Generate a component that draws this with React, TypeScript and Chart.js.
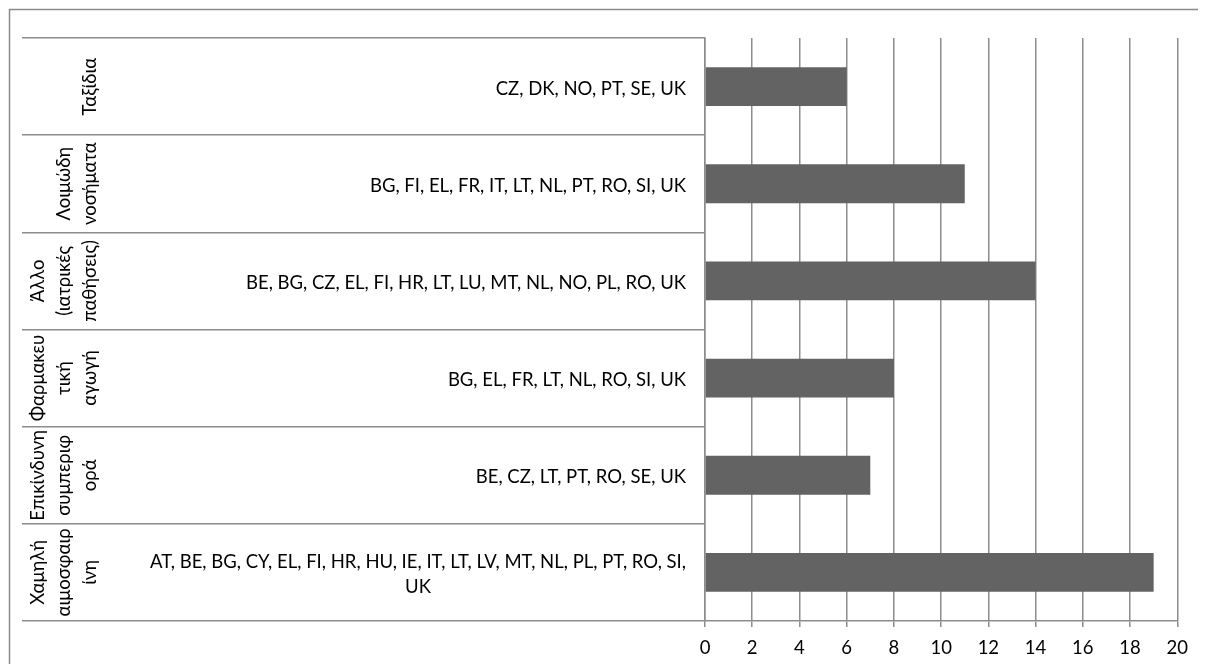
import React, { useEffect, useRef } from "react";
import { Chart, registerables } from "chart.js";

Chart.register(...registerables);

const categories: string[][] = [
  ["Ταξίδια"],
  ["Λοιμώδη", "νοσήματα"],
  ["Άλλο", "(ιατρικές", "παθήσεις)"],
  ["Φαρμακευ", "τική", "αγωγή"],
  ["Επικίνδυνη", "συμπεριφ", "ορά"],
  ["Χαμηλή", "αιμοσφαιρ", "ίνη"],
];

const countries: string[][] = [
  ["CZ, DK, NO, PT, SE, UK"],
  ["BG, FI, EL, FR, IT, LT, NL, PT, RO, SI, UK"],
  ["BE, BG, CZ, EL, FI, HR, LT, LU, MT, NL, NO, PL, RO, UK"],
  ["BG, EL, FR, LT, NL, RO, SI, UK"],
  ["BE, CZ, LT, PT, RO, SE, UK"],
  ["AT, BE, BG, CY, EL, FI, HR, HU, IE, IT, LT, LV, MT, NL, PL, PT, RO, SI,", "UK"],
];

const values: number[] = [6, 11, 14, 8, 7, 19];

const xMin = 0;
const xMax = 20;
const xStep = 2;

const FONT = "Lato";
const FONT_SIZE = 18.5;
const GRID = "#8c8c8c";

const labelPlugin = {
  id: "multiLabels",
  beforeDraw(chart: any) {
    const ctx = chart.ctx as CanvasRenderingContext2D;
    ctx.save();
    ctx.fillStyle = "#fff";
    ctx.fillRect(0, 0, chart.width, chart.height);
    ctx.strokeStyle = "#8a8a8a";
    ctx.lineWidth = 1.5;
    ctx.beginPath();
    ctx.moveTo(1.5, chart.height);
    ctx.lineTo(1.5, 1.5);
    ctx.lineTo(chart.width, 1.5);
    ctx.stroke();
    ctx.restore();
  },
  afterDraw(chart: any) {
    const ctx = chart.ctx as CanvasRenderingContext2D;
    const yScale = chart.scales.y;
    ctx.save();
    ctx.fillStyle = "#000";
    ctx.font = `${FONT_SIZE}px ${FONT}`;
    ctx.textBaseline = "middle";
    const rightEdge = chart.chartArea.left - 19;
    const lh = 25;
    countries.forEach((lines, i) => {
      const y = yScale.getPixelForValue(i) + 2;
      let w = 0;
      lines.forEach((l) => (w = Math.max(w, ctx.measureText(l).width)));
      const cx = rightEdge - w / 2;
      ctx.textAlign = "center";
      lines.forEach((l, j) => {
        ctx.fillText(l, cx, y + (j - (lines.length - 1) / 2) * lh);
      });
    });
    const lastX = 82;
    const olh = 26;
    categories.forEach((lines, i) => {
      const y = yScale.getPixelForValue(i);
      lines.forEach((l, j) => {
        const x = lastX - (lines.length - 1 - j) * olh;
        ctx.save();
        ctx.translate(x, y);
        ctx.rotate(-Math.PI / 2);
        ctx.textAlign = "center";
        ctx.fillText(l, 0, 0);
        ctx.restore();
      });
    });
    ctx.restore();
  },
};

export default function App() {
  const ref = useRef<HTMLCanvasElement | null>(null);
  useEffect(() => {
    if (!ref.current) return;
    const chart = new Chart(ref.current, {
      type: "bar",
      data: {
        labels: categories.map((c) => c.join(" ")),
        datasets: [
          {
            data: values,
            backgroundColor: "#636363",
            borderWidth: 0,
            barPercentage: 0.4,
            categoryPercentage: 1,
          },
        ],
      },
      options: {
        indexAxis: "y",
        animation: false,
        responsive: false,
        maintainAspectRatio: false,
        layout: { padding: { top: 30, right: 17, left: 0, bottom: 0 } },
        plugins: { legend: { display: false }, tooltip: { enabled: false } },
        scales: {
          x: {
            type: "linear",
            min: xMin,
            max: xMax,
            ticks: {
              stepSize: xStep,
              color: "#000",
              font: { family: FONT, size: FONT_SIZE },
              padding: 10,
            },
            grid: {
              color: GRID,
              lineWidth: 1.5,
              tickLength: 6,
              drawTicks: true,
            },
            border: { display: true, color: GRID, width: 1.5 },
            afterFit: (s: any) => {
              s.height = 43;
            },
          },
          y: {
            type: "category",
            offset: true,
            ticks: { display: false },
            grid: {
              offset: true,
              drawOnChartArea: false,
              drawTicks: true,
              tickLength: 683,
              color: GRID,
              lineWidth: 1.5,
            },
            border: { display: true, color: GRID, width: 1.5 },
            afterFit: (s: any) => {
              s.width = 697;
            },
          },
        },
      },
      plugins: [labelPlugin],
    });
    return () => chart.destroy();
  }, []);
  return (
    <canvas
      ref={ref}
      width={1190}
      height={656}
      style={{ display: "block", width: 1190, height: 656 }}
    />
  );
}
